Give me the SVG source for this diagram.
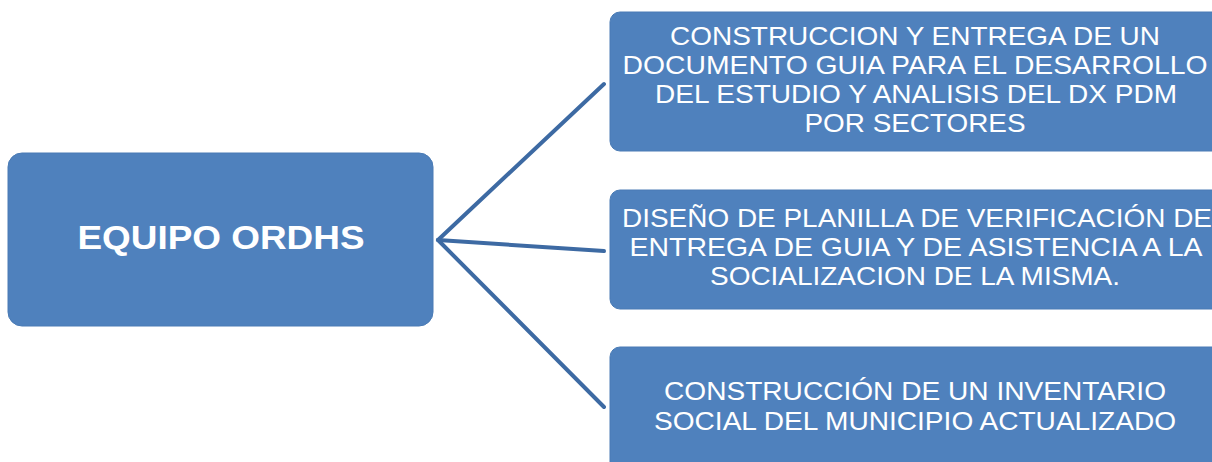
<svg xmlns="http://www.w3.org/2000/svg" width="1212" height="462" viewBox="0 0 1212 462">
  <style>
    .box { fill: #4f81bd; stroke: #4a7bb5; stroke-width: 1; }
    .t { fill: #ffffff; font-family: "Liberation Sans", Arial, sans-serif; font-size: 25px; text-anchor: middle; }
    .tb { fill: #ffffff; font-family: "Liberation Sans", Arial, sans-serif; font-size: 34px; font-weight: bold; text-anchor: middle; }
    .conn { stroke: #3d6aa3; stroke-width: 4; fill: none; stroke-linecap: round; }
  </style>
  <rect width="1212" height="462" fill="#ffffff"/>
  <g id="connectors">
    <line class="conn" x1="438" y1="240" x2="604" y2="84"/>
    <line class="conn" x1="438" y1="240" x2="604" y2="251"/>
    <line class="conn" x1="438" y1="240" x2="604" y2="407"/>
  </g>
  <g id="node-equipo">
    <rect class="box" x="8" y="153" width="425" height="173" rx="14" ry="14"/>
    <text class="tb" x="221" y="249" textLength="287" lengthAdjust="spacingAndGlyphs">EQUIPO ORDHS</text>
  </g>
  <g id="node-documento">
    <rect class="box" x="610" y="12" width="620" height="139" rx="10" ry="10"/>
    <text class="t" x="915" y="45" textLength="490" lengthAdjust="spacingAndGlyphs">CONSTRUCCION Y ENTREGA DE UN</text>
    <text class="t" x="915" y="74" textLength="585" lengthAdjust="spacingAndGlyphs">DOCUMENTO GUIA PARA EL DESARROLLO</text>
    <text class="t" x="916" y="103" textLength="522" lengthAdjust="spacingAndGlyphs">DEL ESTUDIO Y ANALISIS DEL DX PDM</text>
    <text class="t" x="915" y="132" textLength="221" lengthAdjust="spacingAndGlyphs">POR SECTORES</text>
  </g>
  <g id="node-planilla">
    <rect class="box" x="610" y="190" width="620" height="119" rx="10" ry="10"/>
    <text class="t" x="917" y="227" textLength="590" lengthAdjust="spacingAndGlyphs">DISEÑO DE PLANILLA DE VERIFICACIÓN DE</text>
    <text class="t" x="916" y="256" textLength="573" lengthAdjust="spacingAndGlyphs">ENTREGA DE GUIA Y DE ASISTENCIA A LA</text>
    <text class="t" x="915" y="285" textLength="410" lengthAdjust="spacingAndGlyphs">SOCIALIZACION DE LA MISMA.</text>
  </g>
  <g id="node-inventario">
    <rect class="box" x="610" y="347" width="620" height="140" rx="10" ry="10"/>
    <text class="t" x="915" y="400" textLength="502" lengthAdjust="spacingAndGlyphs">CONSTRUCCIÓN DE UN INVENTARIO</text>
    <text class="t" x="915" y="430" textLength="522" lengthAdjust="spacingAndGlyphs">SOCIAL DEL MUNICIPIO ACTUALIZADO</text>
  </g>
</svg>
